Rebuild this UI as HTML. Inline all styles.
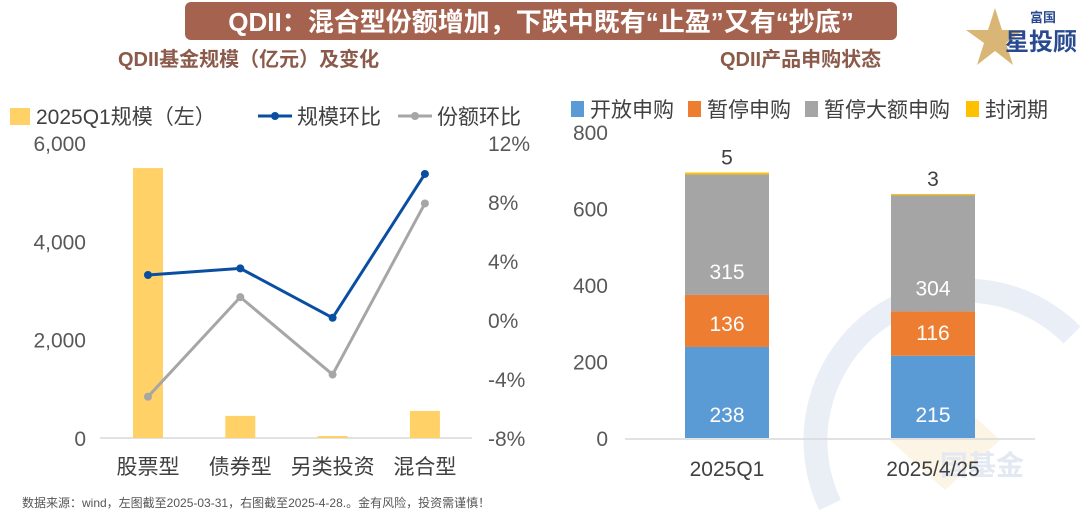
<!DOCTYPE html>
<html><head><meta charset="utf-8">
<style>
html,body{margin:0;padding:0;width:1080px;height:514px;overflow:hidden;background:#fff;font-family:"Liberation Sans","Noto Sans CJK SC",sans-serif;}
svg{display:block;}
svg text{font-family:"Liberation Sans","Noto Sans CJK SC",sans-serif;}
</style></head>
<body>
<svg width="1080" height="514" viewBox="0 0 1080 514">
<g opacity="0.5">
<path d="M830,505 A150,150 0 0 1 1072,335" fill="none" stroke="#d6e0ef" stroke-width="24"/>
<rect x="930" y="270" width="40" height="110" fill="#d6e0ef"/>
<polygon points="945,390 1000,440 945,490 890,440" fill="#fbeacb"/>
<text x="940" y="475" font-size="28" font-weight="bold" fill="#c9d4e6">国基金</text>
</g>
<rect x="185" y="2" width="712" height="38" rx="6" fill="#a5624f"/>
<text x="541" y="31" text-anchor="middle" font-size="26" font-weight="bold" fill="#fff">QDII：混合型份额增加，下跌中既有“止盈”又有“抄底”</text>
<g>
<polygon points="995,8 1002,30 1024,30 1006,43 1013,65 995,51 977,65 984,43 966,30 988,30" fill="#d9b676"/>
<text x="1030" y="22" font-size="13" font-weight="bold" fill="#2a4a8f">富国</text>
<text x="1005" y="50" font-size="24" font-weight="bold" fill="#2a4a8f">星投顾</text>
</g>
<text x="118" y="66" font-size="20" font-weight="bold" fill="#8b5a4a">QDII基金规模（亿元）及变化</text>
<text x="720" y="66" font-size="20" font-weight="bold" fill="#8b5a4a">QDII产品申购状态</text>
<g id="left"></g>
<g id="right"></g>
<text x="22" y="507" font-size="12" fill="#555">数据来源：wind，左图截至2025-03-31，右图截至2025-4-28.。金有风险，投资需谨慎！</text>
</svg>
<script>
const leftCats=["股票型","债券型","另类投资","混合型"];
const scaleVals=[5490,450,40,550];
const scaleChg=[3.05,3.5,0.15,9.9];
const shareChg=[-5.2,1.55,-3.7,7.9];
const leftTicks=[0,2000,4000,6000];
const rightTicks=[-8,-4,0,4,8,12];
const rightCats=["2025Q1","2025/4/25"];
const openVals=[238,215];
const pauseVals=[136,116];
const pauseLargeVals=[315,304];
const closedVals=[5,3];
const rTicks=[0,200,400,600,800];

const NS="http://www.w3.org/2000/svg";
function mk(p,t,a,txt){const e=document.createElementNS(NS,t);for(const k in a)e.setAttribute(k,a[k]);if(txt!==undefined)e.textContent=txt;p.appendChild(e);return e;}
const L=document.getElementById('left');
const yL=v=>438-v/6000*295;
const yR=v=>438-(v+8)/20*295;
const xL=i=>148+i*92.3;
mk(L,'line',{x1:100,x2:472,y1:438,y2:438,stroke:'#d9d9d9','stroke-width':1.5});
leftTicks.forEach(t=>{const e=mk(L,'text',{x:86,y:yL(t)+8,'text-anchor':'end','font-size':21,fill:'#595959'},t.toLocaleString('en-US'));

});
rightTicks.forEach(t=>{const e=mk(L,'text',{x:488,y:yR(t)+8,'font-size':21,fill:'#595959'},t+'%');

});
scaleVals.forEach((v,i)=>{const e=mk(L,'rect',{x:xL(i)-15,y:yL(v),width:30,height:438-yL(v),fill:'#ffd166'});

});
leftCats.forEach((c,i)=>{const e=mk(L,'text',{x:xL(i),y:474,'text-anchor':'middle','font-size':21,fill:'#404040'},c);

});
function line(vals,col,name){
 const l=mk(L,'polyline',{points:vals.map((v,i)=>xL(i)+','+yR(v)).join(' '),fill:'none',stroke:col,'stroke-width':3});
 
 
 vals.forEach((v,i)=>{const c=mk(L,'circle',{cx:xL(i),cy:yR(v),r:4,fill:col});
 
 });
}
line(shareChg,'#a6a6a6','share-change');
line(scaleChg,'#0a4ea2','scale-change');
const lg=mk(L,'g',{});


mk(lg,'rect',{x:10,y:108,width:20,height:17,fill:'#ffd166'});
mk(lg,'text',{x:36,y:124,'font-size':21,fill:'#404040'},'2025Q1规模（左）');
mk(lg,'line',{x1:258,x2:292,y1:116,y2:116,stroke:'#0a4ea2','stroke-width':3});
mk(lg,'circle',{cx:275,cy:116,r:4,fill:'#0a4ea2'});
mk(lg,'text',{x:297,y:124,'font-size':21,fill:'#404040'},'规模环比');
mk(lg,'line',{x1:398,x2:432,y1:116,y2:116,stroke:'#a6a6a6','stroke-width':3});
mk(lg,'circle',{cx:415,cy:116,r:4,fill:'#a6a6a6'});
mk(lg,'text',{x:437,y:124,'font-size':21,fill:'#404040'},'份额环比');

const R=document.getElementById('right');
const yB=v=>438-v/800*306;
const xB=i=>727+i*206;
mk(R,'line',{x1:625,x2:1035,y1:439,y2:439,stroke:'#d9d9d9','stroke-width':1.5});
rTicks.forEach(t=>{const e=mk(R,'text',{x:608,y:yB(t)+8,'text-anchor':'end','font-size':21,fill:'#595959'},t);

});
const series=[[openVals,'#5b9bd5','open'],[pauseVals,'#ed7d31','paused'],[pauseLargeVals,'#a5a5a5','paused-large'],[closedVals,'#ffc000','closed']];
rightCats.forEach((c,i)=>{
 let base=0;
 series.forEach(([vals,col,n],k)=>{
  const v=vals[i];
  const r=mk(R,'rect',{x:xB(i)-42,y:yB(base+v),width:84,height:yB(base)-yB(base+v),fill:col});
  
  
  const ty=k<3?yB(base)-16:yB(base+v)-8;
  const t=mk(R,'text',{x:xB(i),y:ty,'text-anchor':'middle','font-size':21,fill:k<3?'#fff':'#404040'},v);
  
  
  base+=v;
 });
 const t=mk(R,'text',{x:xB(i),y:476,'text-anchor':'middle','font-size':21,fill:'#404040'},c);
 
 
});
const rg=mk(R,'g',{});


[['开放申购','#5b9bd5',571],['暂停申购','#ed7d31',688],['暂停大额申购','#a5a5a5',805],['封闭期','#ffc000',966]].forEach(([n,c,x])=>{
 mk(rg,'rect',{x:x,y:101,width:13,height:16,fill:c});
 mk(rg,'text',{x:x+19,y:117,'font-size':21,fill:'#404040'},n);
});
</script>
</body></html>
